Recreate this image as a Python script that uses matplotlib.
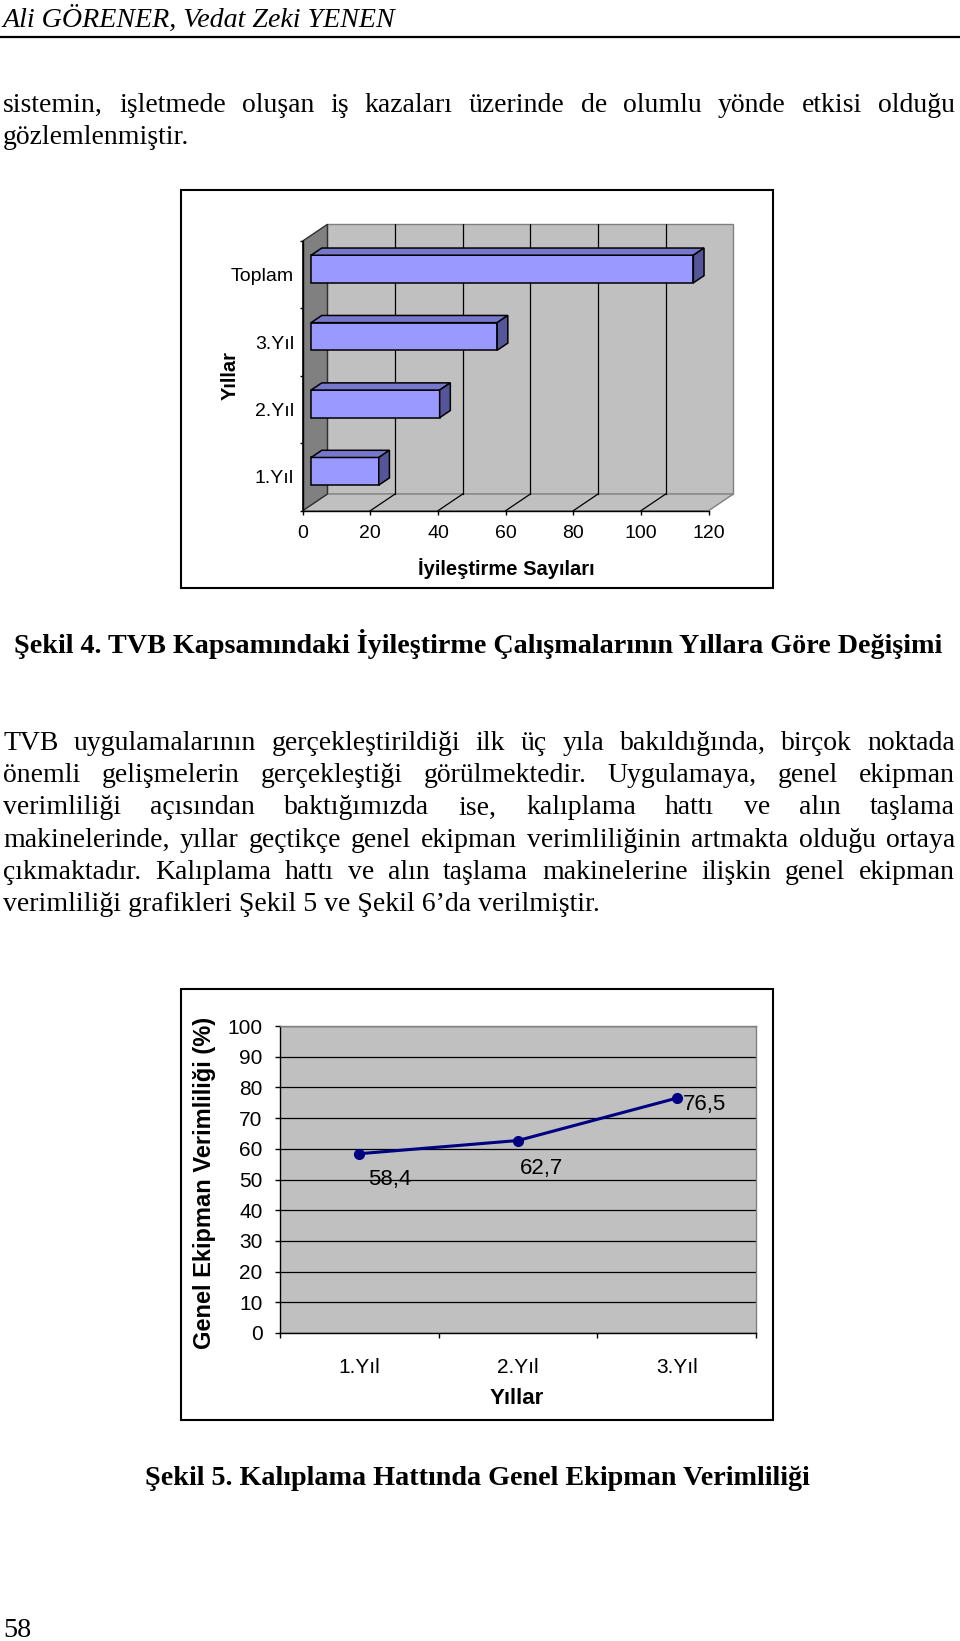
import matplotlib
matplotlib.use('Agg')
import matplotlib.pyplot as plt
from matplotlib.patches import Polygon, Rectangle
from matplotlib.lines import Line2D
import numpy as np

W, H, DPI = 960, 1641, 100

# ---------------- data ----------------
bar_categories = ['1.Yıl', '2.Yıl', '3.Yıl', 'Toplam']
bar_values = [20, 38, 55, 113]
bar_xticks = [0, 20, 40, 60, 80, 100, 120]
bar_xlabel = 'İyileştirme Sayıları'
bar_ylabel = 'Yıllar'

line_categories = ['1.Yıl', '2.Yıl', '3.Yıl']
line_values = [58.4, 62.7, 76.5]
line_value_labels = ['58,4', '62,7', '76,5']
line_yticks = [0, 10, 20, 30, 40, 50, 60, 70, 80, 90, 100]
line_xlabel = 'Yıllar'
line_ylabel = 'Genel Ekipman Verimliliği (%)'

header = 'Ali GÖRENER, Vedat Zeki YENEN'
para1 = ['sistemin, işletmede oluşan iş kazaları üzerinde de olumlu yönde etkisi olduğu',
         'gözlemlenmiştir.']
caption4 = 'Şekil 4. TVB Kapsamındaki İyileştirme Çalışmalarının Yıllara Göre Değişimi'
para2 = ['TVB uygulamalarının gerçekleştirildiği ilk üç yıla bakıldığında, birçok noktada',
         'önemli gelişmelerin gerçekleştiği görülmektedir. Uygulamaya, genel ekipman',
         'verimliliği açısından baktığımızda ise, kalıplama hattı ve alın taşlama',
         'makinelerinde, yıllar geçtikçe genel ekipman verimliliğinin artmakta olduğu ortaya',
         'çıkmaktadır. Kalıplama hattı ve alın taşlama makinelerine ilişkin genel ekipman',
         'verimliliği grafikleri Şekil 5 ve Şekil 6’da verilmiştir.']
caption5 = 'Şekil 5. Kalıplama Hattında Genel Ekipman Verimliliği'
page_no = '58'

plt.rcParams['font.family'] = ['Liberation Sans', 'DejaVu Sans']

fig = plt.figure(figsize=(W / DPI, H / DPI), dpi=DPI)
fig.patch.set_facecolor('white')
renderer = fig.canvas.get_renderer()


def fx(x):
    return x / W


def fy(y):
    return 1 - y / H


def measure(s, **kw):
    t = fig.text(0, 0, s, **kw)
    w = t.get_window_extent(renderer).width
    t.remove()
    return w


def fit_size(s, target, **kw):
    base = 20
    return base * target / measure(s, fontsize=base, **kw)


def put(s, x, yb, **kw):
    fig.text(fx(x), fy(yb), s, ha='left', va='baseline', **kw)


def justify(s, x0, x1, yb, **kw):
    words = s.split(' ')
    ws = [measure(w, **kw) for w in words]
    gap = (x1 - x0 - sum(ws)) / (len(words) - 1)
    x = x0
    for w, wd in zip(words, ws):
        put(w, x, yb, **kw)
        x += wd + gap


SERIF = 'Liberation Serif'

# ---------------- page text ----------------
hfs = fit_size(header, 394, family=SERIF, style='italic')
put(header, 3, 27, family=SERIF, style='italic', fontsize=hfs)
fig.add_artist(Line2D([0, 1], [fy(36.5), fy(36.5)], color='black', lw=1.6))

body_fs = fit_size(para2[-1], 597, family=SERIF)
bkw = dict(family=SERIF, fontsize=body_fs, color='black')

justify(para1[0], 3, 955, 111.5, **bkw)
put(para1[1], 3, 144, **bkw)

c4fs = fit_size(caption4, 928, family=SERIF, weight='bold')
put(caption4, 14, 653, family=SERIF, weight='bold', fontsize=c4fs)

p2_base = [750, 782.5, 814.5, 847, 879, 911]
for i, (ln, yb) in enumerate(zip(para2, p2_base)):
    if i < len(para2) - 1:
        justify(ln, 3, 955, yb, **bkw)
    else:
        put(ln, 3, yb, **bkw)

c5fs = fit_size(caption5, 666, family=SERIF, weight='bold')
put(caption5, 145, 1485, family=SERIF, weight='bold', fontsize=c5fs)

pfs = fit_size(page_no, 28, family=SERIF)
put(page_no, 3, 1637, family=SERIF, fontsize=pfs)

# ---------------- bar chart (3D look) ----------------
fig.add_artist(Rectangle((fx(181), fy(588)), (773 - 181) / W, (588 - 190) / H,
                         transform=fig.transFigure, fill=False, ec='black', lw=1.5))

n = len(bar_categories)
xmax = bar_xticks[-1]
DX, DY = 7.32, 0.248
f_front, f_depth, bh = 0.34, 0.43, 0.41
axL, axR, axB, axT = 302.7, 733.4, 510.7, 224.3
ax1 = fig.add_axes([fx(axL), fy(axB), (axR - axL) / W, (axB - axT) / H])
ax1.set_xlim(0, xmax + DX)
ax1.set_ylim(0, n + DY)
ax1.patch.set_visible(False)

ax1.add_patch(Polygon([(DX, DY), (xmax + DX, DY), (xmax + DX, n + DY), (DX, n + DY)],
                      closed=True, fc='#C0C0C0', ec='#808080', lw=1, zorder=0.5, clip_on=False))
ax1.add_patch(Polygon([(0, 0), (xmax, 0), (xmax + DX, DY), (DX, DY)],
                      closed=True, fc='#C0C0C0', ec='#808080', lw=1, zorder=0.5, clip_on=False))
ax1.add_patch(Polygon([(0, 0), (DX, DY), (DX, n + DY), (0, n)],
                      closed=True, fc='#808080', ec='#303030', lw=1, zorder=0.6, clip_on=False))
for v in bar_xticks[1:-1]:
    ax1.plot([v + DX, v + DX], [DY, n + DY], color='black', lw=0.9, zorder=1)
    ax1.plot([v, v + DX], [0, DY], color='black', lw=0.9, zorder=1)

for i, v in enumerate(bar_values):
    x0 = f_front * DX
    y0 = i + 0.5 - bh / 2 + f_front * DY
    ddx, ddy = f_depth * DX, f_depth * DY
    ax1.barh(y0 + bh / 2, v, left=x0, height=bh, color='#9999FF',
             edgecolor='black', lw=1.1, zorder=3)
    ax1.add_patch(Polygon([(x0, y0 + bh), (x0 + v, y0 + bh), (x0 + v + ddx, y0 + bh + ddy),
                           (x0 + ddx, y0 + bh + ddy)], closed=True, fc='#7777CC',
                          ec='black', lw=1.1, zorder=3))
    ax1.add_patch(Polygon([(x0 + v, y0), (x0 + v + ddx, y0 + ddy), (x0 + v + ddx, y0 + bh + ddy),
                           (x0 + v, y0 + bh)], closed=True, fc='#555599',
                          ec='black', lw=1.1, zorder=3))

for s in ['top', 'right']:
    ax1.spines[s].set_visible(False)
ax1.spines['left'].set_bounds(0, n)
ax1.spines['bottom'].set_bounds(0, xmax)
for s in ['left', 'bottom']:
    ax1.spines[s].set_color('black')
    ax1.spines[s].set_linewidth(1.0)
    ax1.spines[s].set_zorder(2)
ax1.set_xticks(bar_xticks)
ax1.set_xticklabels([str(t) for t in bar_xticks])
ax1.set_yticks(range(n + 1))
ax1.set_yticklabels([])
ax1.set_yticks(np.arange(n) + 0.5, minor=True)
ax1.set_yticklabels(bar_categories, minor=True)
ax1.tick_params(axis='x', direction='out', length=3, width=1, labelsize=14, pad=7)
ax1.tick_params(axis='y', which='major', direction='out', length=2, width=1)
ax1.tick_params(axis='y', which='minor', length=0, labelsize=14, pad=6.3)

fig.text(fx(506.5), fy(569), bar_xlabel, ha='center', va='center',
         fontsize=14.5, weight='bold')
fig.text(fx(230), fy(376), bar_ylabel, ha='center', va='center', rotation=90,
         fontsize=14.5, weight='bold')

# ---------------- line chart ----------------
fig.add_artist(Rectangle((fx(181), fy(1419.6)), (773 - 181) / W, (1419.6 - 989) / H,
                         transform=fig.transFigure, fill=False, ec='black', lw=1.5))

lL, lR, lT, lB = 280, 756, 1026, 1333
ax2 = fig.add_axes([fx(lL), fy(lB), (lR - lL) / W, (lB - lT) / H])
ax2.set_facecolor('#C0C0C0')
m = len(line_categories)
ax2.set_xlim(0, m)
ax2.set_ylim(line_yticks[0], line_yticks[-1])
xs = np.arange(m) + 0.5
ax2.plot(xs, line_values, color='#000080', lw=2.2, marker='o', ms=7, zorder=3, clip_on=False)
offsets = [(21.6, -18.7), (16.9, -19.9), (20.2, -4.8)]
for xi, vi, lbl, off in zip(xs, line_values, line_value_labels, offsets):
    ax2.annotate(lbl, (xi, vi), xytext=off, textcoords='offset points',
                 ha='center', va='center', fontsize=16)

ax2.set_yticks(line_yticks)
ax2.yaxis.grid(True, color='black', lw=0.9)
ax2.set_axisbelow(True)
ax2.set_xticks(np.arange(m + 1))
ax2.set_xticklabels([])
ax2.set_xticks(xs, minor=True)
ax2.set_xticklabels(line_categories, minor=True)
ax2.tick_params(axis='y', direction='out', length=3.6, width=1, labelsize=15, pad=9)
ax2.tick_params(axis='x', which='major', direction='out', length=3.6, width=1)
ax2.tick_params(axis='x', which='minor', length=0, labelsize=15, pad=18)
ax2.spines['left'].set_color('black')
ax2.spines['bottom'].set_color('black')
ax2.spines['top'].set_color('#808080')
ax2.spines['right'].set_color('#808080')
for s in ax2.spines.values():
    s.set_linewidth(1.0)

fig.text(fx(517), fy(1399), line_xlabel, ha='center', va='center', fontsize=16, weight='bold')
fig.text(fx(205), fy(1182.5), line_ylabel, ha='center', va='center', rotation=90,
         fontsize=17, weight='bold')

fig.savefig('out.png', dpi=DPI, facecolor='white')
